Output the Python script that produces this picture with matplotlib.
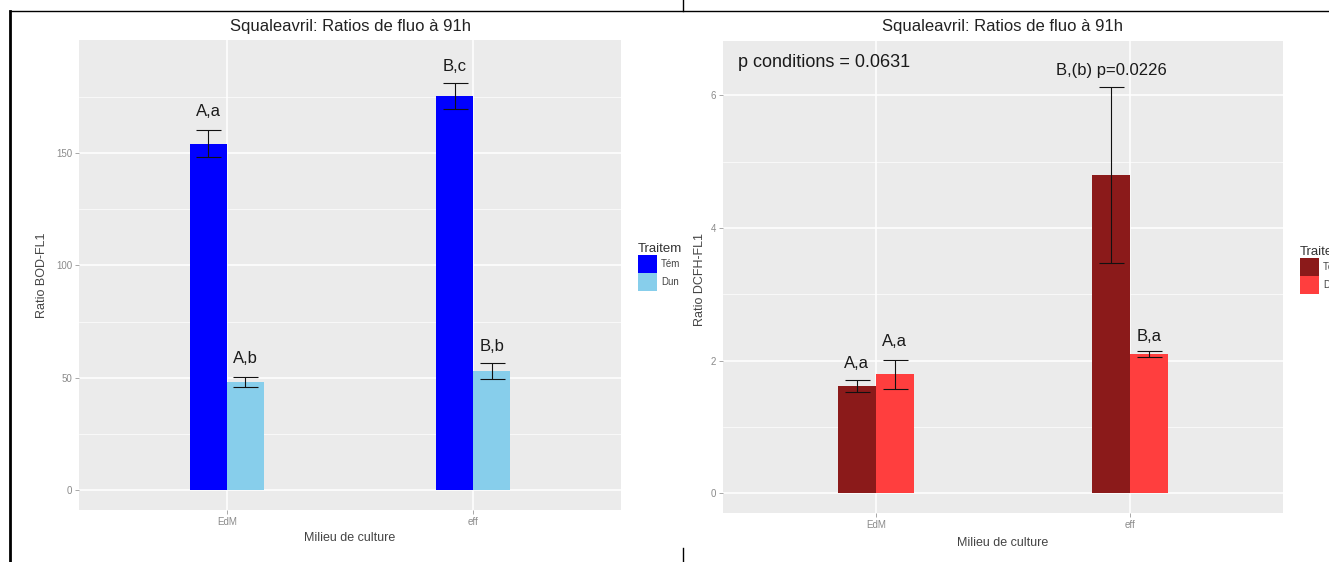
import numpy as np
import matplotlib
matplotlib.use("Agg")
import matplotlib.pyplot as plt
from matplotlib.lines import Line2D

plt.rcParams['font.family'] = ['Liberation Sans', 'DejaVu Sans']

# ---------------------------------------------------------------------
# Data
# ---------------------------------------------------------------------

mediums = ["EdM", "eff"]
treatments = ["Tém", "Dun"]

# left: Ratio BOD-FL1
bod_tem = [154.3, 175.5]
bod_tem_err = [6.0, 5.7]
bod_dun = [48.2, 53.0]
bod_dun_err = [2.3, 3.6]
bod_lab_tem = ["A,a", "B,c"]
bod_lab_tem_y = [168.4, 188.4]
bod_lab_dun = ["A,b", "B,b"]
bod_lab_dun_y = [58.7, 64.0]

# right: Ratio DCFH-FL1
dcfh_tem = [1.62, 4.80]
dcfh_tem_err = [0.09, 1.33]
dcfh_dun = [1.79, 2.10]
dcfh_dun_err = [0.22, 0.04]
dcfh_lab_tem = ["A,a", "B,(b) p=0.0226"]
dcfh_lab_tem_y = [1.96, 6.38]
dcfh_lab_dun = ["A,a", "B,a"]
dcfh_lab_dun_y = [2.28, 2.36]
p_conditions = "p conditions = 0.0631"
p_conditions_xy = (0.46, 6.49)

W, H = 1329, 562
BAR_W = 0.15
TITLE = "Squaleavril: Ratios de fluo à 91h"


def px_axes(fig, x0, y0, x1, y1):
    """Axes placed with pixel coordinates (origin top left)."""
    return fig.add_axes([x0 / W, 1 - y1 / H, (x1 - x0) / W, (y1 - y0) / H])


def draw_panel(ax, tem, tem_err, dun, dun_err, colors, ylim, major, minor,
               lab_tem, lab_tem_y, lab_dun, lab_dun_y):
    """ggplot-like dodged bar chart with error bars and letter labels."""
    x = np.arange(1, len(mediums) + 1)
    ax.set_facecolor('#EBEBEB')
    for s in ax.spines.values():
        s.set_visible(False)

    bars = []
    for off, vals, errs, col in [(-BAR_W / 2, tem, tem_err, colors[0]),
                                 (BAR_W / 2, dun, dun_err, colors[1])]:
        b = ax.bar(x + off, vals, width=BAR_W, color=col, zorder=2)
        bars.append(b)
        ax.errorbar(x + off, vals, yerr=errs, fmt='none', ecolor='#111111',
                    elinewidth=0.8, capsize=9, capthick=0.8, zorder=3)

    for xi, t, yv in zip(x - BAR_W / 2, lab_tem, lab_tem_y):
        ax.text(xi, yv, t, ha='center', va='center', fontsize=12, color='#1a1a1a', zorder=4)
    for xi, t, yv in zip(x + BAR_W / 2, lab_dun, lab_dun_y):
        ax.text(xi, yv, t, ha='center', va='center', fontsize=12, color='#1a1a1a', zorder=4)

    ax.set_xlim(0.4, 2.6)
    ax.set_ylim(*ylim)
    ax.set_xticks(x)
    ax.set_xticklabels(mediums)
    ax.set_yticks(major)
    ax.set_yticks(minor, minor=True)
    ax.grid(True, which='major', color='white', linewidth=1.1, zorder=0)
    ax.grid(True, which='minor', axis='y', color='white', linewidth=0.5, zorder=0)
    ax.set_axisbelow(True)
    ax.tick_params(which='major', length=3, width=0.6, color='#9a9a9a',
                   labelsize=7, labelcolor='#8a8a8a', pad=2)
    ax.tick_params(which='minor', length=0)
    return bars


def add_legend(fig, handles, x, y, title):
    leg = fig.legend(handles, treatments, title=title, loc='upper left',
                     bbox_to_anchor=(x / W, 1 - y / H), bbox_transform=fig.transFigure,
                     frameon=False, fontsize=7, title_fontsize=9.5,
                     handlelength=1.95, handleheight=2.5, labelspacing=0,
                     handletextpad=0.4, borderpad=0, borderaxespad=0,
                     alignment='left')
    for t in leg.get_texts():
        t.set_color('#444444')
    leg.get_title().set_color('#333333')
    return leg


def main():
    fig = plt.figure(figsize=(W / 100, H / 100), dpi=100)
    fig.patch.set_facecolor('white')

    # left panel
    ax1 = px_axes(fig, 79, 40, 621, 510)
    b1 = draw_panel(ax1, bod_tem, bod_tem_err, bod_dun, bod_dun_err,
                    ['#0000FF', '#87CEEB'], (-8.9, 200.4),
                    [0, 50, 100, 150], [25, 75, 125, 175],
                    bod_lab_tem, bod_lab_tem_y, bod_lab_dun, bod_lab_dun_y)
    fig.text(350 / W, 1 - 27 / H, TITLE, ha='center', va='center', fontsize=12, color='#222222')
    fig.text(350 / W, 1 - 538 / H, "Milieu de culture", ha='center', va='center', fontsize=9, color='#444444')
    fig.text(42 / W, 1 - 275 / H, "Ratio BOD-FL1", ha='center', va='center', rotation=90,
             fontsize=9, color='#444444')
    add_legend(fig, [b1[0], b1[1]], 638, 243, "Traitem")

    # white strip where the right picture starts (crops the left legend)
    fig.add_artist(plt.Rectangle((684 / W, 0), (W - 684) / W, 1 - 12 / H,
                                 transform=fig.transFigure, color='white', zorder=1))

    # right panel
    ax2 = px_axes(fig, 723, 41, 1283, 513)
    b2 = draw_panel(ax2, dcfh_tem, dcfh_tem_err, dcfh_dun, dcfh_dun_err,
                    ['#8B1A1A', '#FF3E3E'], (-0.30, 6.82),
                    [0, 2, 4, 6], [1, 3, 5],
                    dcfh_lab_tem, dcfh_lab_tem_y, dcfh_lab_dun, dcfh_lab_dun_y)
    ax2.text(p_conditions_xy[0], p_conditions_xy[1], p_conditions, ha='left', va='center',
             fontsize=13, color='#1a1a1a')
    ax2.set_zorder(2)
    fig.text(1003 / W, 1 - 27 / H, TITLE, ha='center', va='center', fontsize=12, color='#222222', zorder=3)
    fig.text(1003 / W, 1 - 543 / H, "Milieu de culture", ha='center', va='center', fontsize=9,
             color='#444444', zorder=3)
    fig.text(700 / W, 1 - 280 / H, "Ratio DCFH-FL1", ha='center', va='center', rotation=90,
             fontsize=9, color='#444444', zorder=3)
    leg2 = add_legend(fig, [b2[0], b2[1]], 1300, 246, "Traitem")
    leg2.set_zorder(3)

    # frame lines of the document around the two pictures
    for xs, ys, lw in [([10, 10], [11, H], 2.0), ([10, W], [11, 11], 1.0),
                       ([683, 683], [0, 11], 1.0), ([683, 683], [548, H], 1.0)]:
        fig.add_artist(Line2D([v / W for v in xs], [1 - v / H for v in ys],
                              color='black', linewidth=lw, zorder=5))

    fig.savefig('out.png', dpi=100)


if __name__ == '__main__':
    main()
